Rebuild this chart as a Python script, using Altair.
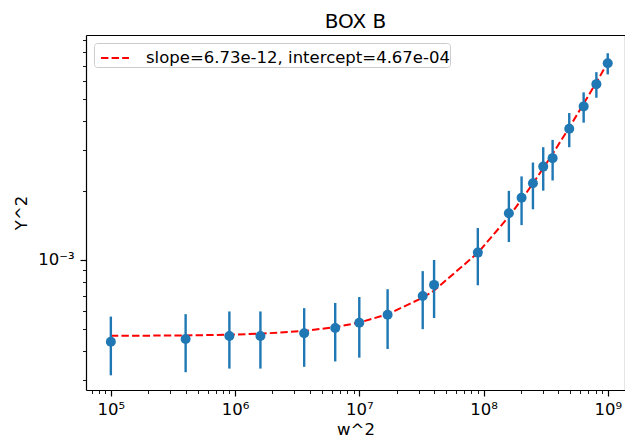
import altair as alt
import pandas as pd

# data
w2 = [1e5, 4e5, 9e5, 1.6e6, 3.6e6, 6.4e6, 1e7, 1.69e7, 3.24e7, 4e7,
      9e7, 1.6e8, 2.025e8, 2.5e8, 3.025e8, 3.6e8, 4.9e8, 6.4e8, 8.1e8, 1e9]
y2 = [4.41e-4, 4.53e-4, 4.67e-4, 4.67e-4, 4.80e-4, 5.06e-4, 5.33e-4, 5.78e-4, 6.97e-4, 7.79e-4,
      1.076e-3, 1.596e-3, 1.862e-3, 2.155e-3, 2.545e-3, 2.77e-3, 3.72e-3, 4.65e-3, 5.81e-3, 7.16e-3]
yerr = [1.26e-4, 1.28e-4, 1.30e-4, 1.30e-4, 1.37e-4, 1.44e-4, 1.57e-4, 1.68e-4, 1.97e-4, 2.2e-4,
        3.0e-4, 4.0e-4, 4.45e-4, 4.95e-4, 5.45e-4, 5.55e-4, 6.3e-4, 7.0e-4, 7.4e-4, 7.55e-4]
slope = 6.73e-12
intercept = 4.67e-4
fit_label = "slope=6.73e-12, intercept=4.67e-04"

x_major = [1e5, 1e6, 1e7, 1e8, 1e9]
x_minor = [7e4, 8e4, 9e4] + [m * 10 ** e for e in range(5, 9) for m in range(2, 10)]
y_major = [1e-3]
y_minor = [m * 1e-4 for m in range(3, 10)] + [m * 1e-3 for m in range(2, 10)]

df = pd.DataFrame({
    "x": w2,
    "y": y2,
    "lo": [a - b for a, b in zip(y2, yerr)],
    "hi": [a + b for a, b in zip(y2, yerr)],
    "fit": [slope * v + intercept for v in w2],
    "lab": [fit_label] * len(w2),
})

FONT = "DejaVu Sans"
BLUE = "#1f77b4"
FS = 16.5

xs = alt.Scale(type="log", domain=[10 ** 4.8, 10 ** 9.139], nice=False)
ys = alt.Scale(type="log", domain=[2.72e-4, 9.5e-3], nice=False)

x_label_expr = ("datum.value < 5e5 ? '10⁵' : datum.value < 5e6 ? '10⁶' : "
                "datum.value < 5e7 ? '10⁷' : datum.value < 5e8 ? '10⁸' : '10⁹'")

frame = dict(domain=True, domainColor="black", domainWidth=1.2)

x_axis_major = alt.Axis(values=x_major, labelExpr=x_label_expr, orient="bottom",
                        title="w^2", tickSize=6, tickWidth=1.2, tickColor="black",
                        grid=False, labelFont=FONT, labelFontSize=FS,
                        labelColor="black", labelPadding=5, titleFont=FONT,
                        titleFontSize=FS, titleFontWeight="normal", titleColor="black",
                        titlePadding=4, **frame)
x_axis_minor = alt.Axis(values=x_minor, orient="bottom", labels=False, title=None,
                        tickSize=3.5, tickWidth=0.9, tickColor="black", domain=False,
                        grid=False)
x_axis_top = alt.Axis(orient="top", labels=False, ticks=False, title=None,
                      grid=False, **frame)
y_axis_major = alt.Axis(values=y_major, labelExpr="'10⁻³'", orient="left",
                        title="Y^2", tickSize=6, tickWidth=1.2, tickColor="black",
                        grid=False, labelFont=FONT, labelFontSize=FS,
                        labelColor="black", labelPadding=6, titleFont=FONT,
                        titleFontSize=FS, titleFontWeight="normal", titleColor="black",
                        titlePadding=8, **frame)
y_axis_minor = alt.Axis(values=y_minor, orient="left", labels=False, title=None,
                        tickSize=3.5, tickWidth=0.9, tickColor="black", domain=False,
                        grid=False)
y_axis_right = alt.Axis(orient="right", labels=False, ticks=False, title=None,
                        grid=False, **frame)

base = alt.Chart(df)

line = base.mark_line(color="red", strokeWidth=2, strokeDash=[7.4, 3.2]).encode(
    x=alt.X("x:Q", scale=xs, axis=x_axis_minor),
    y=alt.Y("fit:Q", scale=ys, axis=y_axis_minor),
    color=alt.Color("lab:N", scale=alt.Scale(range=["red"]),
                    legend=alt.Legend(title=None, orient="top-left", offset=8,
                                      fillColor="white", strokeColor="#cccccc",
                                      cornerRadius=3, padding=0,
                                      symbolType="stroke", symbolStrokeWidth=2,
                                      symbolDash=[7.4, 3.2], symbolSize=784,
                                      symbolOffset=6,
                                      symbolStrokeColor="red",
                                      labelFont=FONT, labelFontSize=FS,
                                      labelColor="black", labelOffset=16,
                                      labelLimit=0)),
)

bars = base.mark_rule(color=BLUE, strokeWidth=2.4).encode(
    x=alt.X("x:Q", scale=xs, axis=x_axis_top),
    y=alt.Y("lo:Q", scale=ys, axis=y_axis_right),
    y2="hi:Q",
)

points = base.mark_circle(color=BLUE, size=100, opacity=1).encode(
    x=alt.X("x:Q", scale=xs, axis=x_axis_major),
    y=alt.Y("y:Q", scale=ys, axis=y_axis_major),
)

chart = alt.layer(line, bars, points).resolve_axis(
    x="independent", y="independent"
).properties(
    width=539,
    height=355,
    title=alt.TitleParams("BOX B", font=FONT, fontSize=20, fontWeight="normal",
                          color="black", anchor="middle", offset=3),
    autosize=alt.AutoSizeParams(type="none"),
    padding={"left": 78, "top": 27, "right": 0, "bottom": 50},
).configure_view(
    stroke=None
).configure(background="white")

chart.save("out.html", embed_options={"renderer": "svg", "actions": False})
